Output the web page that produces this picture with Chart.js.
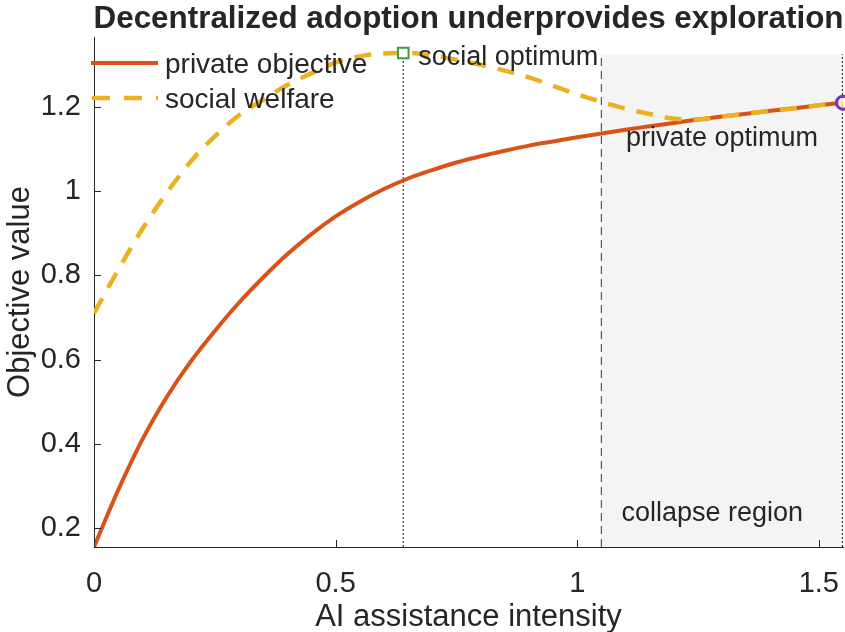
<!DOCTYPE html>
<html>
<head>
<meta charset="utf-8">
<script src="https://cdn.jsdelivr.net/npm/chart.js@4.4.1/dist/chart.umd.min.js"></script>
<style>
html, body { margin: 0; padding: 0; background: #fff; }
</style>
</head>
<body>
<canvas id="grafico" width="845" height="632"></canvas>
<script>
// Data
const intensity = [0, 0.05, 0.1, 0.15, 0.2, 0.25, 0.3, 0.35, 0.4, 0.45, 0.5, 0.55, 0.6, 0.65, 0.7, 0.75,
    0.8, 0.85, 0.9, 0.95, 1, 1.05, 1.1, 1.15, 1.2, 1.25, 1.3, 1.35, 1.4, 1.45, 1.5, 1.55];
const privateObjective = [0.155, 0.29, 0.41, 0.51, 0.595, 0.668, 0.735, 0.795, 0.85, 0.898, 0.94, 0.975,
    1.005, 1.03, 1.05, 1.068, 1.083, 1.096, 1.108, 1.118, 1.128, 1.137, 1.146, 1.154, 1.162, 1.17,
    1.177, 1.184, 1.191, 1.197, 1.204, 1.21];
const socialWelfare = [0.71, 0.813, 0.91, 0.995, 1.07, 1.13, 1.18, 1.217, 1.252, 1.28, 1.305, 1.32,
    1.327, 1.328, 1.322, 1.312, 1.3, 1.286, 1.27, 1.25, 1.23, 1.212, 1.196, 1.183, 1.172, 1.17,
    1.177, 1.184, 1.191, 1.197, 1.204, 1.21];
const socialOptimum = [0.64, 1.328];
const privateOptimum = [1.55, 1.21];
const collapseStart = 1.05;
const markerTop = 1.325;
const xTicks = [0, 0.5, 1, 1.5];
const yTicks = [0.2, 0.4, 0.6, 0.8, 1, 1.2];

const FONT = "'Liberation Sans', Arial, Helvetica, sans-serif";
const INK = '#262626';
const ORANGE = '#D95319';
const YELLOW = '#EDB120';

// Shaded region, reference lines, ticks and texts
const extras = {
    id: 'extras',
    beforeDatasetsDraw(chart) {
        const { ctx, chartArea: a, scales: { x, y } } = chart;
        const top = y.getPixelForValue(markerTop);
        const xc = x.getPixelForValue(collapseStart);
        const xe = x.getPixelForValue(privateOptimum[0]);
        ctx.save();
        ctx.fillStyle = '#f4f4f4';
        ctx.fillRect(xc, top, xe - xc, a.bottom - top);

        ctx.lineWidth = 1.2;
        ctx.strokeStyle = '#555';
        ctx.setLineDash([8, 5]);
        ctx.beginPath();
        ctx.moveTo(xc, a.bottom);
        ctx.lineTo(xc, top);
        ctx.stroke();

        ctx.strokeStyle = '#333';
        ctx.setLineDash([2, 2]);
        ctx.beginPath();
        const xs = x.getPixelForValue(socialOptimum[0]);
        ctx.moveTo(xs, a.bottom);
        ctx.lineTo(xs, y.getPixelForValue(socialOptimum[1]));
        ctx.moveTo(xe - 0.5, a.bottom);
        ctx.lineTo(xe - 0.5, top);
        ctx.stroke();
        ctx.restore();
    },
    afterDraw(chart) {
        const { ctx, chartArea: a, scales: { x, y } } = chart;
        ctx.save();
        // inward ticks
        ctx.strokeStyle = INK;
        ctx.lineWidth = 1;
        ctx.beginPath();
        xTicks.forEach(v => {
            const px = Math.round(x.getPixelForValue(v)) + 0.5;
            ctx.moveTo(px, a.bottom);
            ctx.lineTo(px, a.bottom - 7);
        });
        yTicks.forEach(v => {
            const py = Math.round(y.getPixelForValue(v)) + 0.5;
            ctx.moveTo(a.left, py);
            ctx.lineTo(a.left + 7, py);
        });
        ctx.stroke();

        ctx.fillStyle = INK;
        // title
        ctx.font = 'bold 31.4px ' + FONT;
        ctx.textAlign = 'center';
        ctx.textBaseline = 'alphabetic';
        ctx.fillText('Decentralized adoption underprovides exploration', (a.left + a.right) / 2, 28);
        // axis titles
        ctx.font = '31px ' + FONT;
        ctx.fillText('AI assistance intensity', (a.left + a.right) / 2, 626);
        ctx.save();
        ctx.translate(29, (a.top + a.bottom) / 2);
        ctx.rotate(-Math.PI / 2);
        ctx.fillText('Objective value', 0, 0);
        ctx.restore();

        // annotations
        ctx.font = '27px ' + FONT;
        ctx.textAlign = 'left';
        ctx.fillText('social optimum', x.getPixelForValue(socialOptimum[0]) + 15, 65);
        ctx.fillText('collapse region', x.getPixelForValue(collapseStart) + 20, 521);
        ctx.textAlign = 'center';
        ctx.fillText('private optimum', 722, 146);

        // legend
        ctx.textAlign = 'left';
        ctx.textBaseline = 'middle';
        ctx.font = '28px ' + FONT;
        ctx.lineWidth = 4;
        ctx.strokeStyle = ORANGE;
        ctx.beginPath();
        ctx.moveTo(91, 63);
        ctx.lineTo(158, 63);
        ctx.stroke();
        ctx.fillText('private objective', 165, 65);
        ctx.strokeStyle = YELLOW;
        ctx.lineWidth = 4.5;
        ctx.setLineDash([18, 14]);
        ctx.beginPath();
        ctx.moveTo(92, 98);
        ctx.lineTo(158, 98);
        ctx.stroke();
        ctx.fillText('social welfare', 165, 100);
        ctx.restore();
    }
};

const ctx = document.getElementById('grafico').getContext('2d');
new Chart(ctx, {
    type: 'line',
    data: {
        datasets: [{
            label: 'social optimum',
            data: [{ x: socialOptimum[0], y: socialOptimum[1] }],
            showLine: false,
            pointStyle: 'rect',
            pointRadius: 7.5,
            borderWidth: 2,
            borderColor: '#3A9D3A',
            backgroundColor: '#ffffff',
            clip: false,
            order: 0,
        }, {
            label: 'private optimum',
            data: [{ x: privateOptimum[0], y: privateOptimum[1] }],
            showLine: false,
            pointStyle: 'circle',
            pointRadius: 6.5,
            borderWidth: 3,
            borderColor: '#7B2FBE',
            backgroundColor: 'rgba(255,255,255,0.6)',
            clip: false,
            order: 0,
        }, {
            label: 'social welfare',
            data: intensity.map((v, i) => ({ x: v, y: socialWelfare[i] })),
            borderColor: YELLOW,
            borderWidth: 4.5,
            borderDash: [17, 12],
            pointRadius: 0,
            cubicInterpolationMode: 'monotone',
            order: 1,
        }, {
            label: 'private objective',
            data: intensity.map((v, i) => ({ x: v, y: privateObjective[i] })),
            borderColor: ORANGE,
            borderWidth: 4,
            pointRadius: 0,
            cubicInterpolationMode: 'monotone',
            order: 2,
        }],
    },
    options: {
        responsive: false,
        animation: false,
        layout: { autoPadding: false, padding: { top: 37, right: 2, left: 0, bottom: 0 } },
        plugins: {
            legend: { display: false },
            tooltip: { enabled: false },
        },
        scales: {
            x: {
                type: 'linear',
                min: 0,
                max: 1.55,
                afterBuildTicks: s => { s.ticks = xTicks.map(v => ({ value: v })); },
                afterFit: s => { s.height = 85; s.paddingLeft = 0; s.paddingRight = 0; },
                grid: { display: false, drawTicks: false },
                border: { display: true, color: INK, width: 1 },
                ticks: {
                    color: INK,
                    font: { family: FONT, size: 29 },
                    padding: 20,
                    maxRotation: 0,
                    autoSkip: false,
                    callback: v => String(v),
                },
            },
            y: {
                type: 'linear',
                min: 0.155,
                max: 1.366,
                afterBuildTicks: s => { s.ticks = yTicks.map(v => ({ value: v })); },
                afterFit: s => { s.width = 94; s.paddingTop = 0; s.paddingBottom = 0; },
                grid: { display: false, drawTicks: false },
                border: { display: true, color: INK, width: 1 },
                ticks: {
                    color: INK,
                    font: { family: FONT, size: 29 },
                    padding: 13,
                    autoSkip: false,
                    callback: v => String(v),
                },
            },
        },
    },
    plugins: [extras],
});
</script>
</body>
</html>
